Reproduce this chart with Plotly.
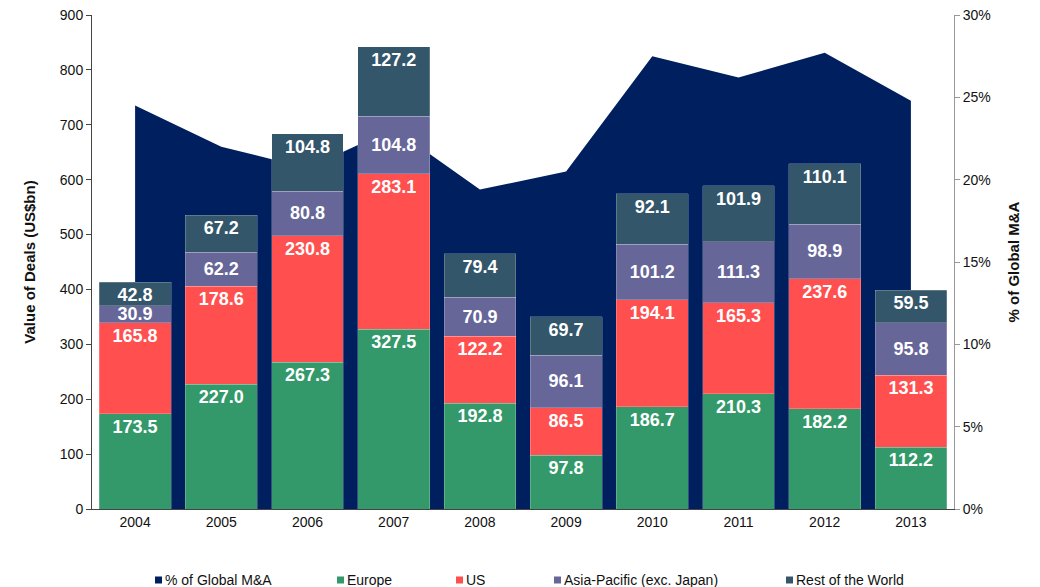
import plotly.graph_objects as go

years = ["2004", "2005", "2006", "2007", "2008", "2009", "2010", "2011", "2012", "2013"]
europe = [173.5, 227.0, 267.3, 327.5, 192.8, 97.8, 186.7, 210.3, 182.2, 112.2]
us = [165.8, 178.6, 230.8, 283.1, 122.2, 86.5, 194.1, 165.3, 237.6, 131.3]
apac = [30.9, 62.2, 80.8, 104.8, 70.9, 96.1, 101.2, 111.3, 98.9, 95.8]
row = [42.8, 67.2, 104.8, 127.2, 79.4, 69.7, 92.1, 101.9, 110.1, 59.5]
pct_global = [0.245, 0.220, 0.207, 0.231, 0.194, 0.205, 0.275, 0.262, 0.277, 0.248]

C_AREA = "#001F5F"
C_EU = "#33996A"
C_US = "#FF4F4F"
C_AP = "#666699"
C_ROW = "#34566A"

FONT = "Liberation Sans, Arial, sans-serif"

# The page body has an 8px default margin; layout pixel targets are given
# in screenshot coordinates and shifted by OFF.
OFF = 8
W, H = 1040, 587
L, R, T, B = 92 - OFF, 954 - OFF, 15 - OFF, 509 - OFF

def px_x(p):
    return (p - OFF - L) / (R - L)

def px_y(p):
    return (B - (p - OFF)) / (B - T)

fig = go.Figure()

fig.add_trace(go.Scatter(
    x=years, y=pct_global, name="% of Global M&A", mode="lines",
    line=dict(color=C_AREA, width=0), fill="tozeroy", fillcolor=C_AREA,
    yaxis="y", hoverinfo="y", showlegend=False))

def bar(vals, name, color, anchor="end"):
    fig.add_trace(go.Bar(
        x=years, y=vals, name=name, yaxis="y2", showlegend=False,
        marker=dict(color=color, line=dict(color="rgba(255,255,255,0.35)", width=0.6)),
        text=[f"{v:.1f}" for v in vals], textposition="inside",
        insidetextanchor=anchor, textangle=0, constraintext="none",
        textfont=dict(family=FONT, size=18, color="white", weight="bold"),
        cliponaxis=False))

bar(europe, "Europe", C_EU)
bar(us, "US", C_US)
bar(apac, "Asia-Pacific (exc. Japan)", C_AP, anchor="middle")
bar(row, "Rest of the World", C_ROW)

# custom legend (Excel-style small squares)
legend_items = [
    ("% of Global M&A", C_AREA, 155),
    ("Europe", C_EU, 337),
    ("US", C_US, 456),
    ("Asia-Pacific (exc. Japan)", C_AP, 554),
    ("Rest of the World", C_ROW, 786),
]
shapes = []
annotations = []
for label, color, xl in legend_items:
    shapes.append(dict(type="rect", xref="paper", yref="paper",
                       x0=px_x(xl), x1=px_x(xl + 7), y0=px_y(583.5), y1=px_y(576.5),
                       fillcolor=color, line=dict(width=0)))
    annotations.append(dict(text=label, xref="paper", yref="paper",
                            x=px_x(xl + 8), y=px_y(580), xanchor="left", yanchor="middle",
                            showarrow=False, font=dict(family=FONT, size=14, color="#111111")))

fig.update_layout(
    width=W, height=H,
    margin=dict(l=L, r=W - R, t=T, b=H - B, autoexpand=False),
    paper_bgcolor="white", plot_bgcolor="white",
    barmode="stack", bargap=0.167,
    font=dict(family=FONT, size=14, color="#111111"),
    showlegend=False,
    xaxis=dict(type="category", range=[-0.5, 9.5], showline=True, linecolor="#444444",
               linewidth=1, ticks="", showgrid=False, automargin=False,
               tickfont=dict(size=14, color="#111111")),
    yaxis=dict(side="right", range=[0, 0.30], tickformat=".0%", dtick=0.05,
               showline=True, linecolor="#999999", linewidth=1, ticks="outside",
               ticklen=5, tickcolor="#999999", showgrid=False, zeroline=False, automargin=False,
               ticklabeloverflow="allow",
               title=dict(text="% of Global M&A", font=dict(size=15, color="#111111", weight="bold"), standoff=18),
               tickfont=dict(size=14, color="#111111")),
    yaxis2=dict(side="left", overlaying="y", range=[0, 900], dtick=100,
                showline=True, linecolor="#444444", linewidth=1, ticks="outside",
                ticklen=5, tickcolor="#444444", showgrid=False, zeroline=False, automargin=False,
                ticklabeloverflow="allow",
                title=dict(text="Value of Deals (US$bn)", font=dict(size=15, color="#111111", weight="bold"), standoff=20),
                tickfont=dict(size=14, color="#111111")),
    shapes=shapes,
    annotations=annotations,
)

fig.write_html("out.html")
